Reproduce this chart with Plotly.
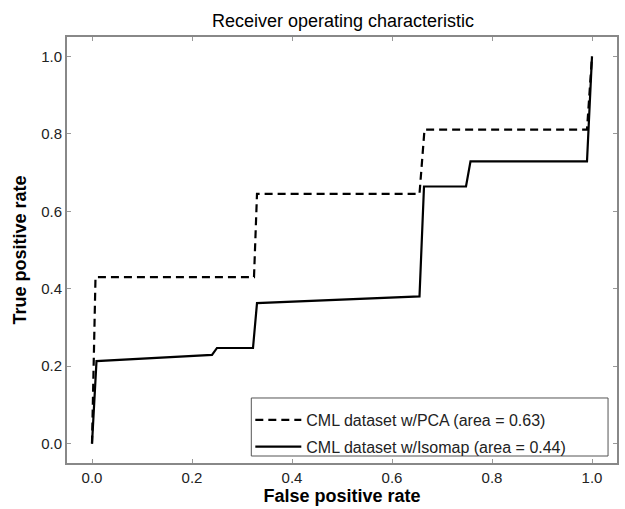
import plotly.graph_objects as go

pca_fpr = [0.0, 0.007, 0.324, 0.33, 0.655, 0.665, 0.99, 1.0]
pca_tpr = [0.0, 0.43, 0.43, 0.645, 0.645, 0.811, 0.811, 1.0]

iso_fpr = [0.0, 0.009, 0.24, 0.25, 0.322, 0.33, 0.655, 0.664, 0.748, 0.757, 0.99, 1.0]
iso_tpr = [0.0, 0.213, 0.229, 0.247, 0.247, 0.363, 0.38, 0.664, 0.664, 0.729, 0.729, 1.0]

pca_label = "CML dataset w/PCA (area = 0.63)"
iso_label = "CML dataset w/Isomap (area = 0.44)"
tick_vals = [0.0, 0.2, 0.4, 0.6, 0.8, 1.0]
tick_text = ["0.0", "0.2", "0.4", "0.6", "0.8", "1.0"]

font_family = "Liberation Sans, Arial, sans-serif"

fig = go.Figure()
fig.add_trace(go.Scatter(x=pca_fpr, y=pca_tpr, mode="lines", name=pca_label,
                         legendgroup="a",
                         line=dict(color="black", width=2.2, dash="8px,5px")))
fig.add_trace(go.Scatter(x=iso_fpr, y=iso_tpr, mode="lines", name=iso_label,
                         legendgroup="b",
                         line=dict(color="black", width=2.2)))

axis_common = dict(
    range=[-0.05, 1.05], tickvals=tick_vals, ticktext=tick_text,
    showgrid=False, zeroline=False, showline=True, linecolor="#888888", linewidth=2,
    mirror="ticks", ticks="inside", ticklen=4, tickcolor="#999999", tickwidth=1,
    tickfont=dict(family=font_family, size=15, color="#222222"),
)

# legend frame (drawn as a layout box, in plot-area fractions)
fig.add_shape(type="rect", xref="paper", yref="paper",
              x0=0.3351, x1=0.9837, y0=0.0164, y1=0.1526,
              line=dict(color="#555555", width=1), fillcolor="white", layer="below")

fig.update_layout(
    width=625, height=509,
    margin=dict(l=67, r=6, t=37, b=46),
    paper_bgcolor="white", plot_bgcolor="white",
    title=dict(text="Receiver operating characteristic", x=(67 + 619) / 2 / 625, xanchor="center",
               y=1 - 21/509, yanchor="middle",
               font=dict(family=font_family, size=18, color="black")),
    xaxis=dict(axis_common, title=dict(text="<b>False positive rate</b>", standoff=3,
               font=dict(family=font_family, size=18, color="black"))),
    yaxis=dict(axis_common, title=dict(text="<b>True positive rate</b>", standoff=10,
               font=dict(family=font_family, size=18, color="black"))),
    legend=dict(x=0.3333, y=-0.0024, xanchor="left", yanchor="bottom",
                borderwidth=0, bgcolor="rgba(0,0,0,0)",
                font=dict(family=font_family, size=16, color="#222222"),
                itemwidth=46, traceorder="grouped", tracegroupgap=3),
    showlegend=True,
)

fig.write_html("out.html")
